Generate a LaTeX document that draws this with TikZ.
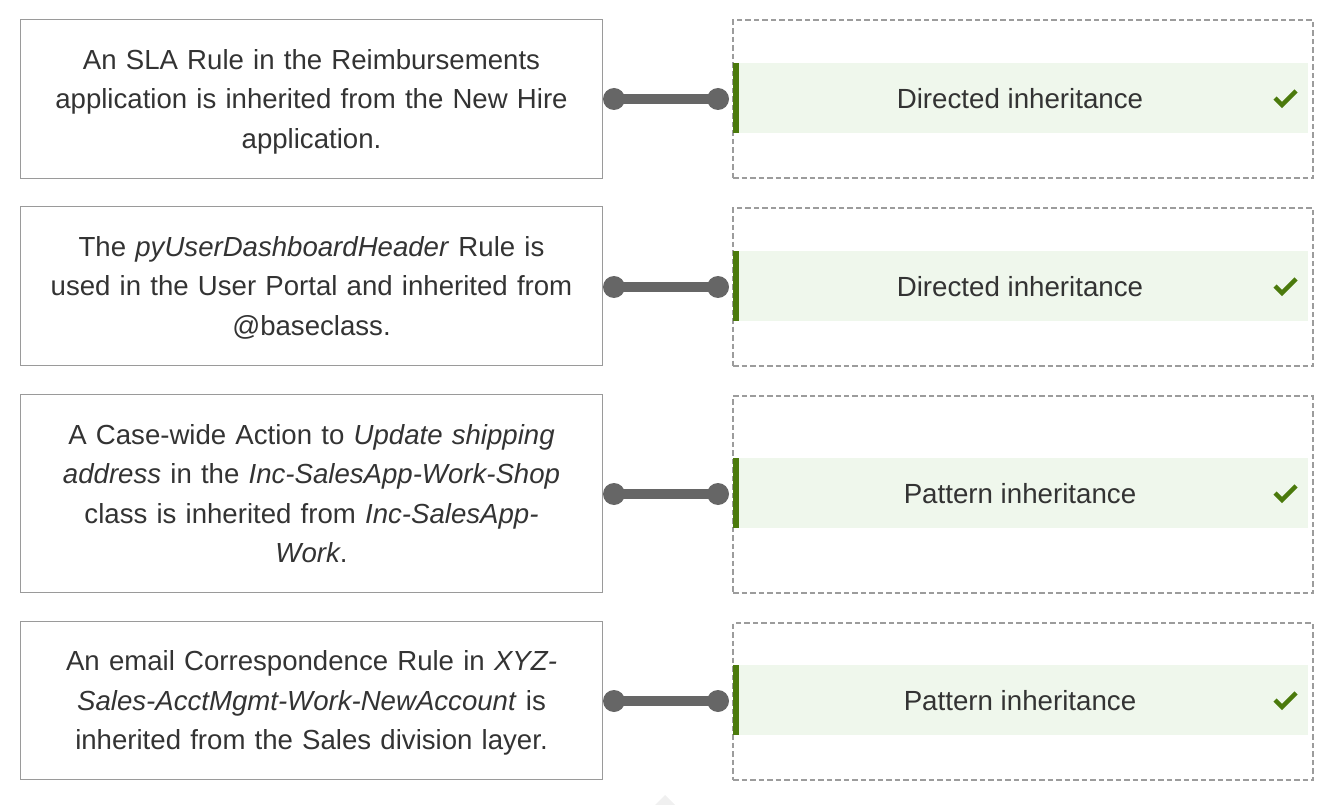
\documentclass[tikz,border=0pt]{standalone}
\usepackage{fontspec}
\setmainfont{Liberation Sans}
\definecolor{txt}{HTML}{333333}
\definecolor{bord}{HTML}{9A9A9A}
\definecolor{dbord}{HTML}{9C9C9C}
\definecolor{band}{HTML}{EFF7EC}
\definecolor{dgreen}{HTML}{4B7A0C}
\definecolor{conn}{HTML}{666666}
\newcommand\mystrut{\rule[-9.85pt]{0pt}{39.5pt}}
\tikzset{
  lbox/.style={draw=bord, line width=1pt, minimum width=582pt, text width=570pt, align=center, inner sep=0pt, text=txt, font=\fontsize{27.6}{39.5}\selectfont, anchor=north west, execute at begin node=\mystrut, execute at end node=\mystrut},
  rbox/.style={draw=dbord, line width=2.2pt, dash pattern=on 5.5pt off 3pt, minimum width=580pt, inner sep=0pt, anchor=north west},
  bandbox/.style={fill=band, draw=none, minimum width=575pt, minimum height=70pt, inner sep=0pt, anchor=west},
  lbl/.style={text=txt, font=\fontsize{27.7}{32}\selectfont, inner sep=0pt},
  dot/.style={circle, fill=conn, minimum size=22pt, inner sep=0pt},
  connline/.style={draw=conn, line width=10pt},
  chk/.style={draw=dgreen, line width=4.5pt},
}
\begin{document}
\begin{tikzpicture}[x=1pt,y=-1pt]
\useasboundingbox (0,0) rectangle (1342,805);
% left boxes
\node[lbox, minimum height=159pt] (l1) at (20,19) {An SLA Rule in the Reimbursements\\application is inherited from the New Hire\\application.};
\node[lbox, minimum height=159pt] (l2) at (20,206) {The \textit{pyUserDashboardHeader} Rule is\\used in the User Portal and inherited from\\@baseclass.};
\node[lbox, minimum height=198pt] (l3) at (20,394) {A Case-wide Action to \textit{Update shipping}\\\textit{address} in the \textit{Inc-SalesApp-Work-Shop}\\class is inherited from \textit{Inc-SalesApp-}\\\textit{Work}.};
\node[lbox, minimum height=158pt] (l4) at (20,621) {An email Correspondence Rule in \textit{XYZ-}\\\textit{Sales-AcctMgmt-Work-NewAccount} is\\inherited from the Sales division layer.};
% right boxes
\node[rbox, minimum height=158pt] (r1) at (732,19) {};
\node[rbox, minimum height=158pt] (r2) at (732,207) {};
\node[rbox, minimum height=197pt] (r3) at (732,395) {};
\node[rbox, minimum height=157pt] (r4) at (732,622) {};
% bands
\foreach \i/\y/\t in {1/98/Directed inheritance, 2/286/Directed inheritance, 3/493/Pattern inheritance, 4/700/Pattern inheritance}{
  \node[bandbox] (b\i) at (733,\y) {};
  \fill[dgreen] (b\i.north west) rectangle ([xshift=6pt]b\i.south west);
  \node[lbl] (t\i) at (1020,\y+1) {\t};
  \coordinate (c\i) at (1285,\y);
  \draw[chk] ([shift={(-10,0)}]c\i) -- ([shift={(-3,7)}]c\i) -- ([shift={(11,-7)}]c\i);
}
% connectors
\foreach \i/\y in {1/99, 2/287, 3/494, 4/701}{
  \node[dot] (p\i) at (614,\y) {};
  \node[dot] (q\i) at (718,\y) {};
  \draw[connline] (p\i.center) -- (q\i.center);
}
% small triangle at bottom
\fill[black!6] (655,805) -- (665,795) -- (675,805) -- cycle;
\end{tikzpicture}
\end{document}
